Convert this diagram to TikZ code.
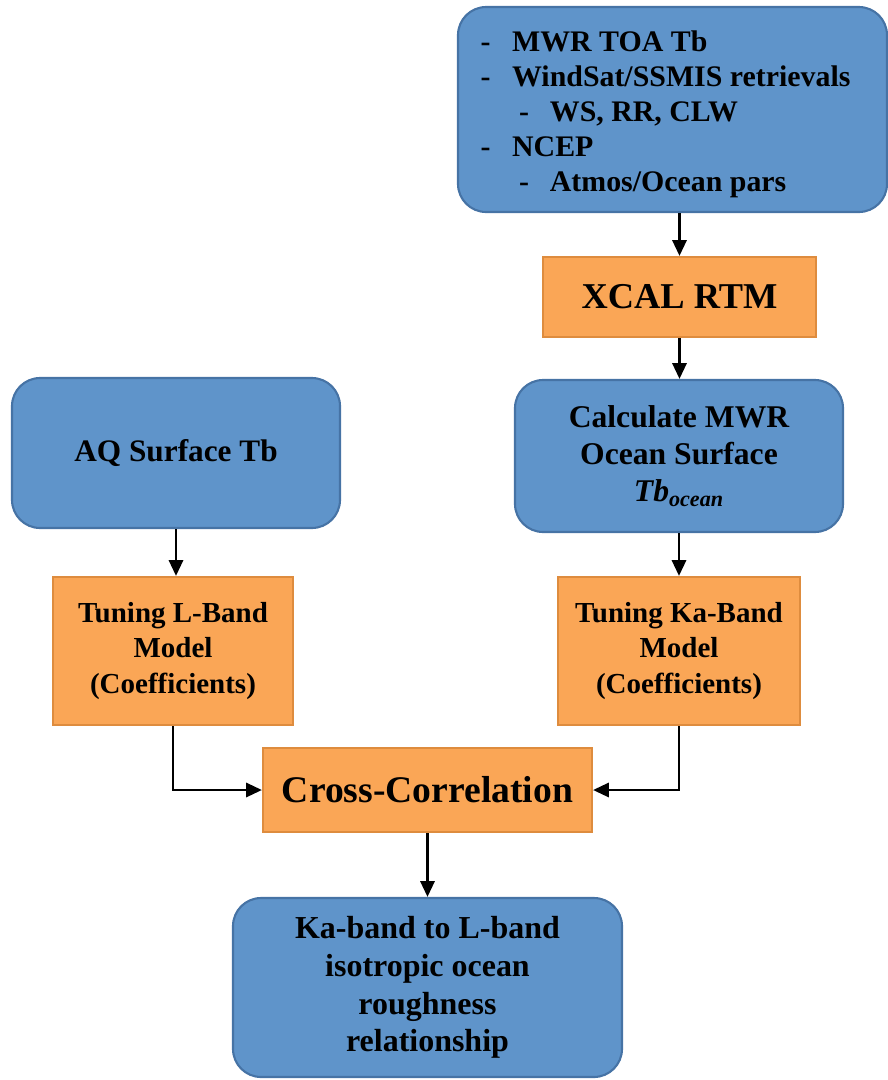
\documentclass[tikz,border=0pt]{standalone}
\usepackage{fontspec}
\setmainfont{Liberation Serif}
\usetikzlibrary{arrows.meta}
\definecolor{boxblue}{RGB}{95,148,202}
\definecolor{lineblue}{RGB}{70,115,165}
\definecolor{boxorange}{RGB}{250,166,86}
\definecolor{lineorange}{RGB}{222,140,62}
\tikzset{
  bluebox/.style={draw=lineblue, fill=boxblue, line width=1.2pt, rounded corners=16pt, align=center, font=\bfseries, inner sep=0pt},
  orangebox/.style={draw=lineorange, fill=boxorange, line width=1.2pt, align=center, font=\bfseries, inner sep=0pt},
  arr/.style={-{Triangle[length=9pt,width=8pt]}, line width=1.6pt}
}
\newcommand{\itm}[1]{\makebox[18pt][l]{-}#1}
\newcommand{\subitm}[1]{\hspace{22pt}\makebox[17.5pt][l]{-}#1}
\begin{document}
\begin{tikzpicture}[x=0.02cm, y=-0.02cm]
    \useasboundingbox (0,0) rectangle (888,1080);

    % boxes
    \node[bluebox, minimum width=429*0.02cm, minimum height=205*0.02cm] (src) at (672.5,109.5)
      {\fontsize{17}{20}\selectfont
       \begin{tabular}{@{}l@{\hspace{8pt}}}
       \rule{0pt}{19.7pt}\itm{MWR TOA Tb}\\
       \itm{WindSat/SSMIS retrievals}\\
       \subitm{WS, RR, CLW}\\
       \itm{NCEP}\\
       \subitm{Atmos/Ocean pars}
       \end{tabular}};
    \node[orangebox, minimum width=273*0.02cm, minimum height=80*0.02cm, font=\bfseries\fontsize{20.7}{24}\selectfont] (xcal) at (679.5,297) {XCAL RTM};
    \node[bluebox, minimum width=328*0.02cm, minimum height=152*0.02cm, font=\bfseries\fontsize{18}{21}\selectfont] (calc) at (679,456)
      {Calculate MWR\\Ocean Surface\\\textit{Tb}\textsubscript{\textit{ocean}}};
    \node[bluebox, minimum width=328*0.02cm, minimum height=150*0.02cm, font=\bfseries\fontsize{17.8}{21}\selectfont] (aq) at (176,453) {AQ Surface Tb};
    \node[orangebox, minimum width=240*0.02cm, minimum height=148*0.02cm, font=\bfseries\fontsize{16.5}{20}\selectfont] (tunl) at (173,651)
      {Tuning L-Band\\Model\\(Coefficients)};
    \node[orangebox, minimum width=242*0.02cm, minimum height=148*0.02cm, font=\bfseries\fontsize{16.5}{20}\selectfont] (tunka) at (679,651)
      {Tuning Ka-Band\\Model\\(Coefficients)};
    \node[orangebox, minimum width=329*0.02cm, minimum height=84*0.02cm, font=\bfseries\fontsize{21.4}{25}\selectfont] (cross) at (427.5,790) {Cross-Correlation};
    \node[bluebox, minimum width=389*0.02cm, minimum height=179*0.02cm, font=\bfseries\fontsize{18.2}{21.5}\selectfont] (result) at (427.5,987.5)
      {Ka-band to L-band\\isotropic ocean\\roughness\\relationship};

    % arrows
    \draw[arr] (xcal.north |- src.south) -- (xcal.north);
    \draw[arr] (xcal.south) -- (calc.north -| xcal.south);
    \draw[arr] (calc.south) -- (tunka.north);
    \draw[arr] (aq.south) -- (tunl.north -| aq.south);
    \draw[arr] (tunl.south) |- (cross.west);
    \draw[arr] (tunka.south) |- (cross.east);
    \draw[arr] (cross.south) -- (result.north);
\end{tikzpicture}
\end{document}
